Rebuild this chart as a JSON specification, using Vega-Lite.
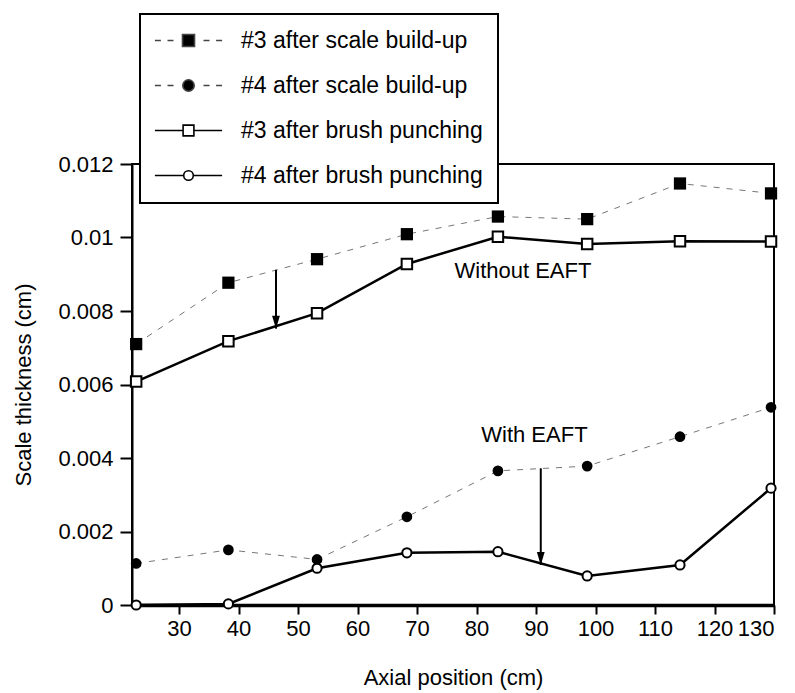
{
  "$schema": "https://vega.github.io/schema/vega-lite/v6.json",
  "width": 642,
  "height": 441,
  "autosize": {"type": "none"},
  "padding": {"left": 132, "top": 164, "right": 21, "bottom": 88},
  "background": "white",
  "config": {
    "font": "Liberation Sans",
    "view": {"stroke": "black", "strokeWidth": 2},
    "axis": {"labelColor": "black", "titleColor": "black", "tickColor": "black", "domainColor": "black", "grid": false, "labelFontSize": 22, "titleFontSize": 22, "titleFontWeight": "normal", "labelFont": "Liberation Sans", "titleFont": "Liberation Sans"},
    "legend": {"strokeColor": "black", "fillColor": "white", "orient": "none", "legendX": 8, "legendY": -150, "padding": 15, "rowPadding": 21, "symbolSize": 144, "symbolOffset": 22, "labelOffset": 41, "labelFontSize": 23, "labelLimit": 400, "labelColor": "black", "labelFont": "Liberation Sans", "symbolOpacity": 1, "symbolStrokeWidth": 1.6}
  },
  "datasets": {
    "points": [
      {"x": 22.8, "y": 0.00710, "series": "#3 after scale build-up"},
      {"x": 38.3, "y": 0.00877, "series": "#3 after scale build-up"},
      {"x": 53.2, "y": 0.00941, "series": "#3 after scale build-up"},
      {"x": 68.3, "y": 0.01009, "series": "#3 after scale build-up"},
      {"x": 83.6, "y": 0.01057, "series": "#3 after scale build-up"},
      {"x": 98.6, "y": 0.01050, "series": "#3 after scale build-up"},
      {"x": 114.2, "y": 0.01147, "series": "#3 after scale build-up"},
      {"x": 129.5, "y": 0.01120, "series": "#3 after scale build-up"},
      {"x": 22.8, "y": 0.00113, "series": "#4 after scale build-up"},
      {"x": 38.3, "y": 0.00150, "series": "#4 after scale build-up"},
      {"x": 53.2, "y": 0.00124, "series": "#4 after scale build-up"},
      {"x": 68.3, "y": 0.00240, "series": "#4 after scale build-up"},
      {"x": 83.6, "y": 0.00365, "series": "#4 after scale build-up"},
      {"x": 98.6, "y": 0.00378, "series": "#4 after scale build-up"},
      {"x": 114.2, "y": 0.00458, "series": "#4 after scale build-up"},
      {"x": 129.5, "y": 0.00538, "series": "#4 after scale build-up"},
      {"x": 22.8, "y": 0.00608, "series": "#3 after brush punching"},
      {"x": 38.3, "y": 0.00718, "series": "#3 after brush punching"},
      {"x": 53.2, "y": 0.00794, "series": "#3 after brush punching"},
      {"x": 68.3, "y": 0.00928, "series": "#3 after brush punching"},
      {"x": 83.6, "y": 0.01002, "series": "#3 after brush punching"},
      {"x": 98.6, "y": 0.00982, "series": "#3 after brush punching"},
      {"x": 114.2, "y": 0.00990, "series": "#3 after brush punching"},
      {"x": 129.5, "y": 0.00989, "series": "#3 after brush punching"},
      {"x": 22.8, "y": 0.0, "series": "#4 after brush punching"},
      {"x": 38.3, "y": 0.00003, "series": "#4 after brush punching"},
      {"x": 53.2, "y": 0.00100, "series": "#4 after brush punching"},
      {"x": 68.3, "y": 0.00142, "series": "#4 after brush punching"},
      {"x": 83.6, "y": 0.00145, "series": "#4 after brush punching"},
      {"x": 98.6, "y": 0.00079, "series": "#4 after brush punching"},
      {"x": 114.2, "y": 0.00109, "series": "#4 after brush punching"},
      {"x": 129.5, "y": 0.00318, "series": "#4 after brush punching"}
    ],
    "arrows": [
      {"x": 46.3, "y": 0.00912, "y2": 0.00752},
      {"x": 90.8, "y": 0.00372, "y2": 0.00109}
    ],
    "notes": [
      {"x": 76.3, "y": 0.0089, "label": "Without EAFT"},
      {"x": 80.8, "y": 0.00444, "label": "With EAFT"}
    ]
  },
  "encoding": {
    "x": {"field": "x", "type": "quantitative", "scale": {"domain": [22.1, 130], "nice": false, "zero": false},
      "axis": {"title": "Axial position (cm)", "values": [30, 40, 50, 60, 70, 80, 90, 100, 110, 120, 130], "tickSize": 9, "tickWidth": 2, "domainWidth": 3.5, "labelPadding": 4, "titlePadding": 28}},
    "y": {"field": "y", "type": "quantitative", "scale": {"domain": [0, 0.012], "nice": false, "zero": false},
      "axis": {"title": "Scale thickness (cm)", "values": [0, 0.002, 0.004, 0.006, 0.008, 0.01, 0.012], "format": "~f", "tickSize": 12, "tickWidth": 2, "domainWidth": 2, "labelPadding": 7, "titlePadding": 22}}
  },
  "layer": [
    {
      "data": {"name": "points"},
      "transform": [{"filter": "indexof(datum.series, 'build-up') >= 0"}],
      "mark": {"type": "line", "color": "#777", "strokeWidth": 1, "strokeDash": [6, 7]},
      "encoding": {"detail": {"field": "series", "type": "nominal"}}
    },
    {
      "data": {"name": "points"},
      "transform": [{"filter": "indexof(datum.series, 'brush') >= 0"}],
      "mark": {"type": "line", "color": "black", "strokeWidth": 2.5},
      "encoding": {"detail": {"field": "series", "type": "nominal"}}
    },
    {
      "data": {"name": "points"},
      "transform": [{"filter": "datum.series === '#3 after scale build-up'"}],
      "mark": {"type": "square", "size": 150, "color": "black", "opacity": 1}
    },
    {
      "data": {"name": "points"},
      "transform": [{"filter": "datum.series === '#4 after scale build-up'"}],
      "mark": {"type": "circle", "size": 115, "color": "black", "opacity": 1}
    },
    {
      "data": {"name": "points"},
      "transform": [{"filter": "datum.series === '#3 after brush punching'"}],
      "mark": {"type": "point", "shape": "square", "size": 110, "filled": true, "fill": "white", "stroke": "black", "strokeWidth": 2, "opacity": 1}
    },
    {
      "data": {"name": "points"},
      "transform": [{"filter": "datum.series === '#4 after brush punching'"}],
      "mark": {"type": "point", "shape": "circle", "size": 85, "filled": true, "fill": "white", "stroke": "black", "strokeWidth": 2, "opacity": 1}
    },
    {
      "data": {"name": "points"},
      "mark": {"type": "point", "opacity": 0, "filled": false, "strokeWidth": 1.6},
      "encoding": {
        "shape": {"field": "series", "type": "nominal", "title": null,
          "scale": {"domain": ["#3 after scale build-up", "#4 after scale build-up", "#3 after brush punching", "#4 after brush punching"],
            "range": [
              "M-5.6,0L-4.6,0M-3.5,0L-2.5,0M2.5,0L3.5,0M4.6,0L5.6,0M-1,-1L1,-1L1,1L-1,1Z",
              "M-5.6,0L-4.6,0M-3.5,0L-2.5,0M2.5,0L3.5,0M4.6,0L5.6,0M-0.95,0C-0.95,-0.525,-0.525,-0.95,0,-0.95C0.525,-0.95,0.95,-0.525,0.95,0C0.95,0.525,0.525,0.95,0,0.95C-0.525,0.95,-0.95,0.525,-0.95,0Z",
              "M-5.6,0L-0.9,0M0.9,0L5.6,0M-0.9,-0.9L0.9,-0.9L0.9,0.9L-0.9,0.9Z",
              "M-5.6,0L-0.8,0M0.8,0L5.6,0M-0.8,0C-0.8,-0.44,-0.44,-0.8,0,-0.8C0.44,-0.8,0.8,-0.44,0.8,0C0.8,0.44,0.44,0.8,0,0.8C-0.44,0.8,-0.8,0.44,-0.8,0Z"
            ]},
          "legend": {"encode": {"legend": {"update": {"strokeWidth": {"value": 2}}}}}
        },
        "fill": {"field": "series", "type": "nominal", "title": null,
          "scale": {"domain": ["#3 after scale build-up", "#4 after scale build-up", "#3 after brush punching", "#4 after brush punching"],
            "range": ["black", "black", "white", "white"]},
          "legend": {"encode": {"legend": {"update": {"strokeWidth": {"value": 2}}}}}
        },
        "stroke": {"field": "series", "type": "nominal", "title": null,
          "scale": {"domain": ["#3 after scale build-up", "#4 after scale build-up", "#3 after brush punching", "#4 after brush punching"],
            "range": ["#444", "#444", "black", "black"]},
          "legend": {"encode": {"legend": {"update": {"strokeWidth": {"value": 2}}}}}
        }
      }
    },
    {
      "data": {"name": "arrows"},
      "mark": {"type": "rule", "color": "black", "strokeWidth": 2},
      "encoding": {"y2": {"field": "y2"}}
    },
    {
      "data": {"name": "arrows"},
      "mark": {"type": "point", "shape": "M0,0L-0.6,-2L0.6,-2Z", "size": 169, "filled": true, "color": "black", "opacity": 1},
      "encoding": {"y": {"field": "y2", "type": "quantitative"}}
    },
    {
      "data": {"name": "notes"},
      "mark": {"type": "text", "align": "left", "baseline": "alphabetic", "fontSize": 22, "font": "Liberation Sans", "color": "black"},
      "encoding": {"text": {"field": "label"}}
    }
  ]
}
